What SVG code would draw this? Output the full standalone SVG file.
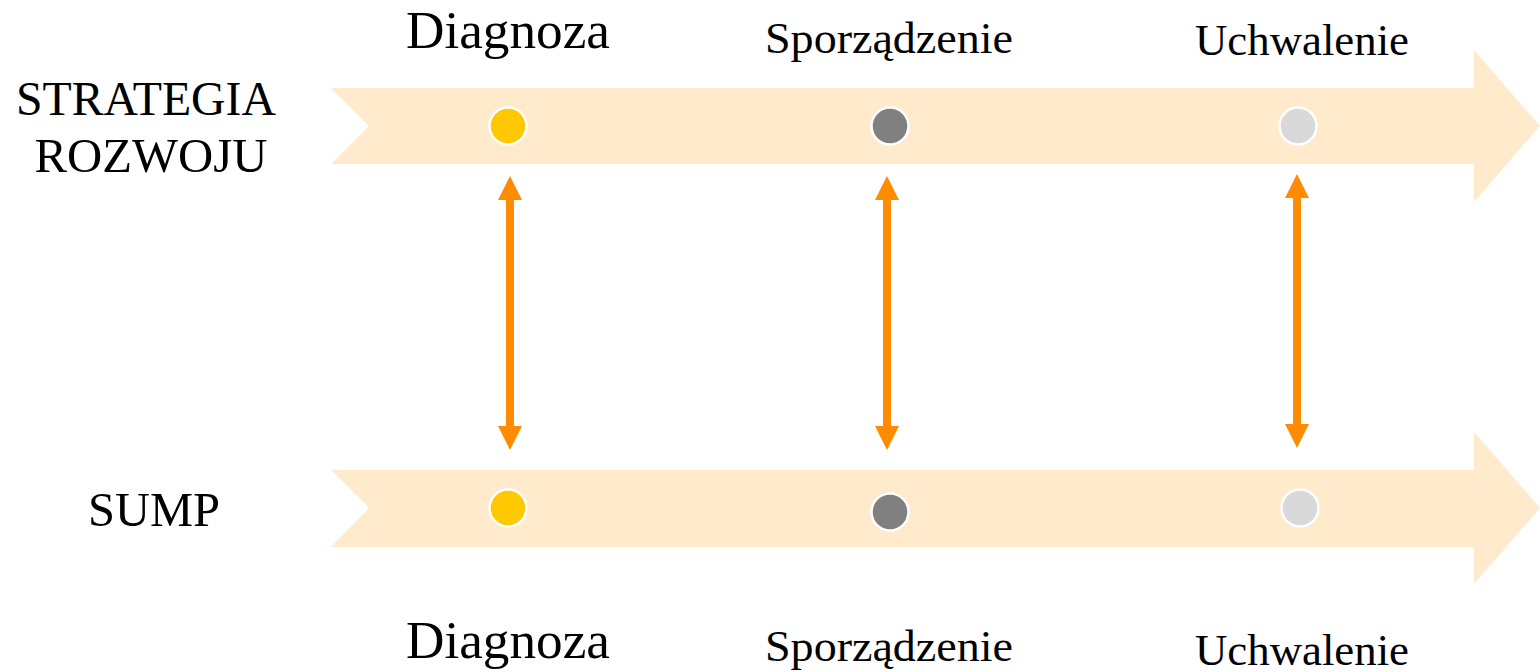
<svg xmlns="http://www.w3.org/2000/svg" width="1540" height="672" viewBox="0 0 1540 672">
<style>
.band{fill:#FFEACC}
.dot{stroke:#fff;stroke-width:2.5}
.y{fill:#FFC800}.g{fill:#808080}.l{fill:#D9D9D9}
.t{font-family:"Liberation Serif","DejaVu Serif",serif;fill:#000;text-anchor:middle}
.c{stroke:#FF8C00;stroke-width:8;fill:none;marker-start:url(#ah);marker-end:url(#ah)}
</style>
<defs>
<marker id="ah" markerUnits="userSpaceOnUse" viewBox="0 0 24 24" refX="1" refY="12" markerWidth="24" markerHeight="24" orient="auto-start-reverse">
<path d="M0,0 L24,12 L0,24 z" fill="#FF8C00"/>
</marker>
</defs>
<g id="band-top"><path class="band" d="M331,88 L1474,88 L1474,50 L1540,126 L1474,202 L1474,164 L331,164 L369,126 z"/></g>
<g id="band-bottom"><path class="band" d="M331,470 L1474,470 L1474,432 L1540,508 L1474,584 L1474,547 L331,547 L369,508 z"/></g>
<g id="label-strategia"><text class="t" x="146" y="115" font-size="48" textLength="260" lengthAdjust="spacingAndGlyphs">STRATEGIA</text><text class="t" x="151" y="172" font-size="48" textLength="233" lengthAdjust="spacingAndGlyphs">ROZWOJU</text></g>
<g id="label-sump"><text class="t" x="154" y="526" font-size="48" textLength="132" lengthAdjust="spacingAndGlyphs">SUMP</text></g>
<g id="top-diagnoza"><text class="t" x="508" y="48" font-size="52" textLength="204" lengthAdjust="spacingAndGlyphs">Diagnoza</text><circle class="dot y" cx="508" cy="126" r="18.5"/></g>
<g id="top-sporzadzenie"><text class="t" x="889" y="53" font-size="44" textLength="248" lengthAdjust="spacingAndGlyphs">Sporządzenie</text><circle class="dot g" cx="890" cy="126" r="18.5"/></g>
<g id="top-uchwalenie"><text class="t" x="1302" y="55" font-size="44" textLength="214" lengthAdjust="spacingAndGlyphs">Uchwalenie</text><circle class="dot l" cx="1298" cy="126" r="18.5"/></g>
<g id="bottom-diagnoza"><circle class="dot y" cx="508" cy="508" r="18.5"/><text class="t" x="508" y="658" font-size="52" textLength="204" lengthAdjust="spacingAndGlyphs">Diagnoza</text></g>
<g id="bottom-sporzadzenie"><circle class="dot g" cx="890" cy="512" r="18.5"/><text class="t" x="889" y="661" font-size="44" textLength="248" lengthAdjust="spacingAndGlyphs">Sporządzenie</text></g>
<g id="bottom-uchwalenie"><circle class="dot l" cx="1300" cy="508" r="18.5"/><text class="t" x="1302" y="665" font-size="44" textLength="214" lengthAdjust="spacingAndGlyphs">Uchwalenie</text></g>
<g id="connectors">
<line class="c" x1="510" y1="199" x2="510" y2="427"/>
<line class="c" x1="887" y1="199" x2="887" y2="427"/>
<line class="c" x1="1297" y1="197" x2="1297" y2="425"/>
</g>
</svg>
